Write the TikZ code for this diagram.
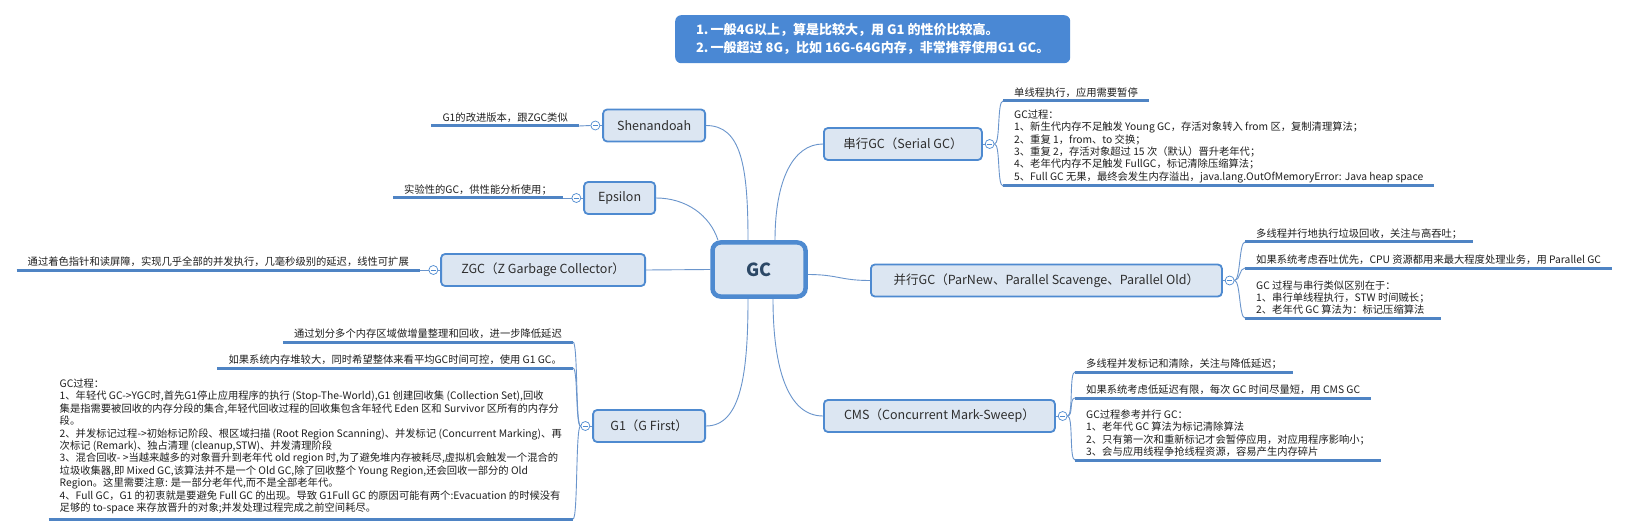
\documentclass[tikz,border=0pt]{standalone}
\usepackage{fontspec}
\setmainfont{Noto Sans CJK SC}
\usepackage{xcolor}
\usetikzlibrary{positioning, calc}

\definecolor{topicblue}{HTML}{4E8AD0}
\definecolor{topicfill}{HTML}{DCE6F2}
\definecolor{linkblue}{HTML}{6A95CC}
\definecolor{lineblue}{HTML}{4F84C4}
\definecolor{noteblue}{HTML}{4A88D4}
\definecolor{roottext}{HTML}{2C4866}

\begin{document}
\begin{tikzpicture}[
  x=1pt, y=-1pt,
  every node/.style={font=\fontsize{10.3}{12.4}\selectfont, text=black!88},
  topic/.style={
    rectangle, rounded corners=4pt,
    draw=topicblue, line width=1.8pt, fill=topicfill,
    minimum height=32pt, inner xsep=4pt,
    font=\fontsize{12.5}{14}\selectfont, text=black!82,
  },
  root/.style={
    topic, line width=4.5pt, rounded corners=8pt,
    minimum width=93pt, minimum height=54pt,
    font=\fontsize{18}{20}\selectfont\bfseries, text=roottext,
  },
  note/.style={
    rectangle, rounded corners=6pt, fill=noteblue,
    minimum width=395pt, minimum height=48pt, inner xsep=8pt,
    align=left, font=\fontsize{13}{18}\selectfont\bfseries, text=white,
  },
  leaf/.style={align=left, inner xsep=11pt, inner ysep=3pt},
  fold/.style={
    circle, draw=topicblue, line width=0.7pt, fill=white,
    minimum size=9pt, inner sep=0pt,
    path picture={\draw[topicblue, line width=0.7pt]
      ([xshift=2pt]path picture bounding box.west) -- ([xshift=-2pt]path picture bounding box.east);},
  },
  link/.style={draw=linkblue, line width=0.9pt},
  uline/.style={draw=lineblue, line width=3pt},
  brace/.style={draw=linkblue, line width=0.9pt},
]
  \fill[white] (0,0) rectangle (1629,529);
  \useasboundingbox (0,0) rectangle (1629,529);

  % hint on top
  \node[note, anchor=north west] (tip) at (675,15)
    {1.\,一般4G以上，算是比较大，用 G1 的性价比较高。\\2.\,一般超过 8G，比如 16G-64G内存，非常推荐使用G1 GC。};

  % centre and main topics
  \node[root] (gc) at (759,269.5) {GC};
  \node[topic, minimum width=158pt, anchor=west] (serial) at (823,144) {串行GC（Serial GC）};
  \node[topic, minimum width=351pt, anchor=west] (par) at (870,280.5) {并行GC（ParNew、Parallel Scavenge、Parallel Old）};
  \node[topic, minimum width=231pt, anchor=west] (cms) at (823,416) {CMS（Concurrent Mark-Sweep）};
  \node[topic, minimum width=112pt, anchor=east] (g1) at (706,426) {G1（G First）};
  \node[topic, minimum width=204pt, anchor=east] (zgc) at (646,270) {ZGC（Z Garbage Collector）};
  \node[topic, minimum width=71pt, anchor=east] (eps) at (656,198) {Epsilon};
  \node[topic, minimum width=102pt, anchor=east] (shen) at (706,125.5) {Shenandoah};

  \draw[link] (gc.west) -- (zgc.east);
  \draw[link] ($(gc.north)+(16,0)$) .. controls +(0,-60) and +(-30,0) .. (serial.west);
  \draw[link] ($(gc.north)+(-11,0)$) .. controls +(0,-75) and +(35,0) .. (shen.east);
  \draw[link] ($(gc.north)+(-41,0)$) .. controls +(-8,-25) and +(30,0) .. (eps.east);
  \draw[link] ($(gc.east)+(0,5)$) .. controls +(30,0) and +(-30,0) .. (par.west);
  \draw[link] ($(gc.south)+(-11,0)$) .. controls +(0,75) and +(35,0) .. (g1.east);
  \draw[link] ($(gc.south)+(14,0)$) .. controls +(0,70) and +(-35,0) .. (cms.west);

  % fold markers
  \node[fold, right=2pt of serial] (serial-f) {};
  \node[fold, right=2pt of par] (par-f) {};
  \node[fold, right=2pt of cms] (cms-f) {};
  \node[fold, left=2pt of g1] (g1-f) {};
  \node[fold, left=2pt of zgc] (zgc-f) {};
  \node[fold, left=2pt of eps] (eps-f) {};
  \node[fold, left=2pt of shen] (shen-f) {};
  \foreach \t in {serial,par,cms} \draw[link] (\t.east) -- (\t-f);
  \foreach \t in {g1,zgc,eps,shen} \draw[link] (\t.west) -- (\t-f);

  % right leaves
  \node[leaf, anchor=south west] (s1) at (1003,101) {单线程执行，应用需要暂停};
  \node[leaf, anchor=south west] (s2) at (1003,186)
    {GC过程：\\1、新生代内存不足触发 Young GC，存活对象转入 from 区，复制清理算法；\\2、重复 1，from、to 交换；\\3、重复 2，存活对象超过 15 次（默认）晋升老年代；\\4、老年代内存不足触发 FullGC，标记清除压缩算法；\\5、Full GC 无果，最终会发生内存溢出，java.lang.OutOfMemoryError: Java heap space};
  \node[leaf, anchor=south west] (p1) at (1245,242) {多线程并行地执行垃圾回收，关注与高吞吐；};
  \node[leaf, anchor=south west] (p2) at (1245,268) {如果系统考虑吞吐优先，CPU 资源都用来最大程度处理业务，用 Parallel GC};
  \node[leaf, anchor=south west] (p3) at (1245,318)
    {GC 过程与串行类似区别在于：\\1、串行单线程执行，STW 时间贼长；\\2、老年代 GC 算法为：标记压缩算法};
  \node[leaf, anchor=south west] (c1) at (1075,372) {多线程并发标记和清除，关注与降低延迟；};
  \node[leaf, anchor=south west] (c2) at (1075,398) {如果系统考虑低延迟有限，每次 GC 时间尽量短，用 CMS GC};
  \node[leaf, anchor=south west] (c3) at (1075,460)
    {GC过程参考并行 GC：\\1、老年代 GC 算法为标记清除算法\\2、只有第一次和重新标记才会暂停应用，对应用程序影响小；\\3、会与应用线程争抢线程资源，容易产生内存碎片};

  % left leaves
  \node[leaf, anchor=south east] (sh1) at (579,126) {G1的改进版本，跟ZGC类似};
  \node[leaf, anchor=south east] (ep1) at (563,198) {实验性的GC，供性能分析使用；};
  \node[leaf, anchor=south east] (zg1) at (420,270) {通过着色指针和读屏障，实现几乎全部的并发执行，几毫秒级别的延迟，线性可扩展};
  \node[leaf, anchor=south east] (ga) at (573,342) {通过划分多个内存区域做增量整理和回收，进一步降低延迟};
  \node[leaf, anchor=south east] (gb) at (573,368) {如果系统内存堆较大，同时希望整体来看平均GC时间可控，使用 G1 GC。};
  \node[leaf, anchor=south east, inner ysep=5pt] (gc3) at (573,519)
    {GC过程：\\1、年轻代 GC->YGC时,首先G1停止应用程序的执行 (Stop-The-World),G1 创建回收集 (Collection Set),回收\\集是指需要被回收的内存分段的集合,年轻代回收过程的回收集包含年轻代 Eden 区和 Survivor 区所有的内存分\\段。\\2、并发标记过程->初始标记阶段、根区域扫描 (Root Region Scanning)、并发标记 (Concurrent Marking)、再\\次标记 (Remark)、独占清理 (cleanup,STW)、并发清理阶段\\3、混合回收- >当越来越多的对象晋升到老年代 old region 时,为了避免堆内存被耗尽,虚拟机会触发一个混合的\\垃圾收集器,即 Mixed GC,该算法并不是一个 Old GC,除了回收整个 Young Region,还会回收一部分的 Old\\Region。这里需要注意: 是一部分老年代,而不是全部老年代。\\4、Full GC，G1 的初衷就是要避免 Full GC 的出现。导致 G1Full GC 的原因可能有两个:Evacuation 的时候没有\\足够的 to-space 来存放晋升的对象;并发处理过程完成之前空间耗尽。};

  \foreach \f/\l in {serial-f/s1, serial-f/s2, par-f/p1, par-f/p2, par-f/p3, cms-f/c1, cms-f/c2, cms-f/c3} {
    \draw[uline] (\l.south west) -- (\l.south east);
    \draw[brace] (\f.east) .. controls +(6,0) and +(-6,0) .. (\l.south west);
  }
  \foreach \f/\l in {shen-f/sh1, eps-f/ep1, zgc-f/zg1, g1-f/ga, g1-f/gb, g1-f/gc3} {
    \draw[uline] (\l.south west) -- (\l.south east);
    \draw[brace] (\f.west) .. controls +(-5,0) and +(5,0) .. (\l.south east);
  }
\end{tikzpicture}
\end{document}
